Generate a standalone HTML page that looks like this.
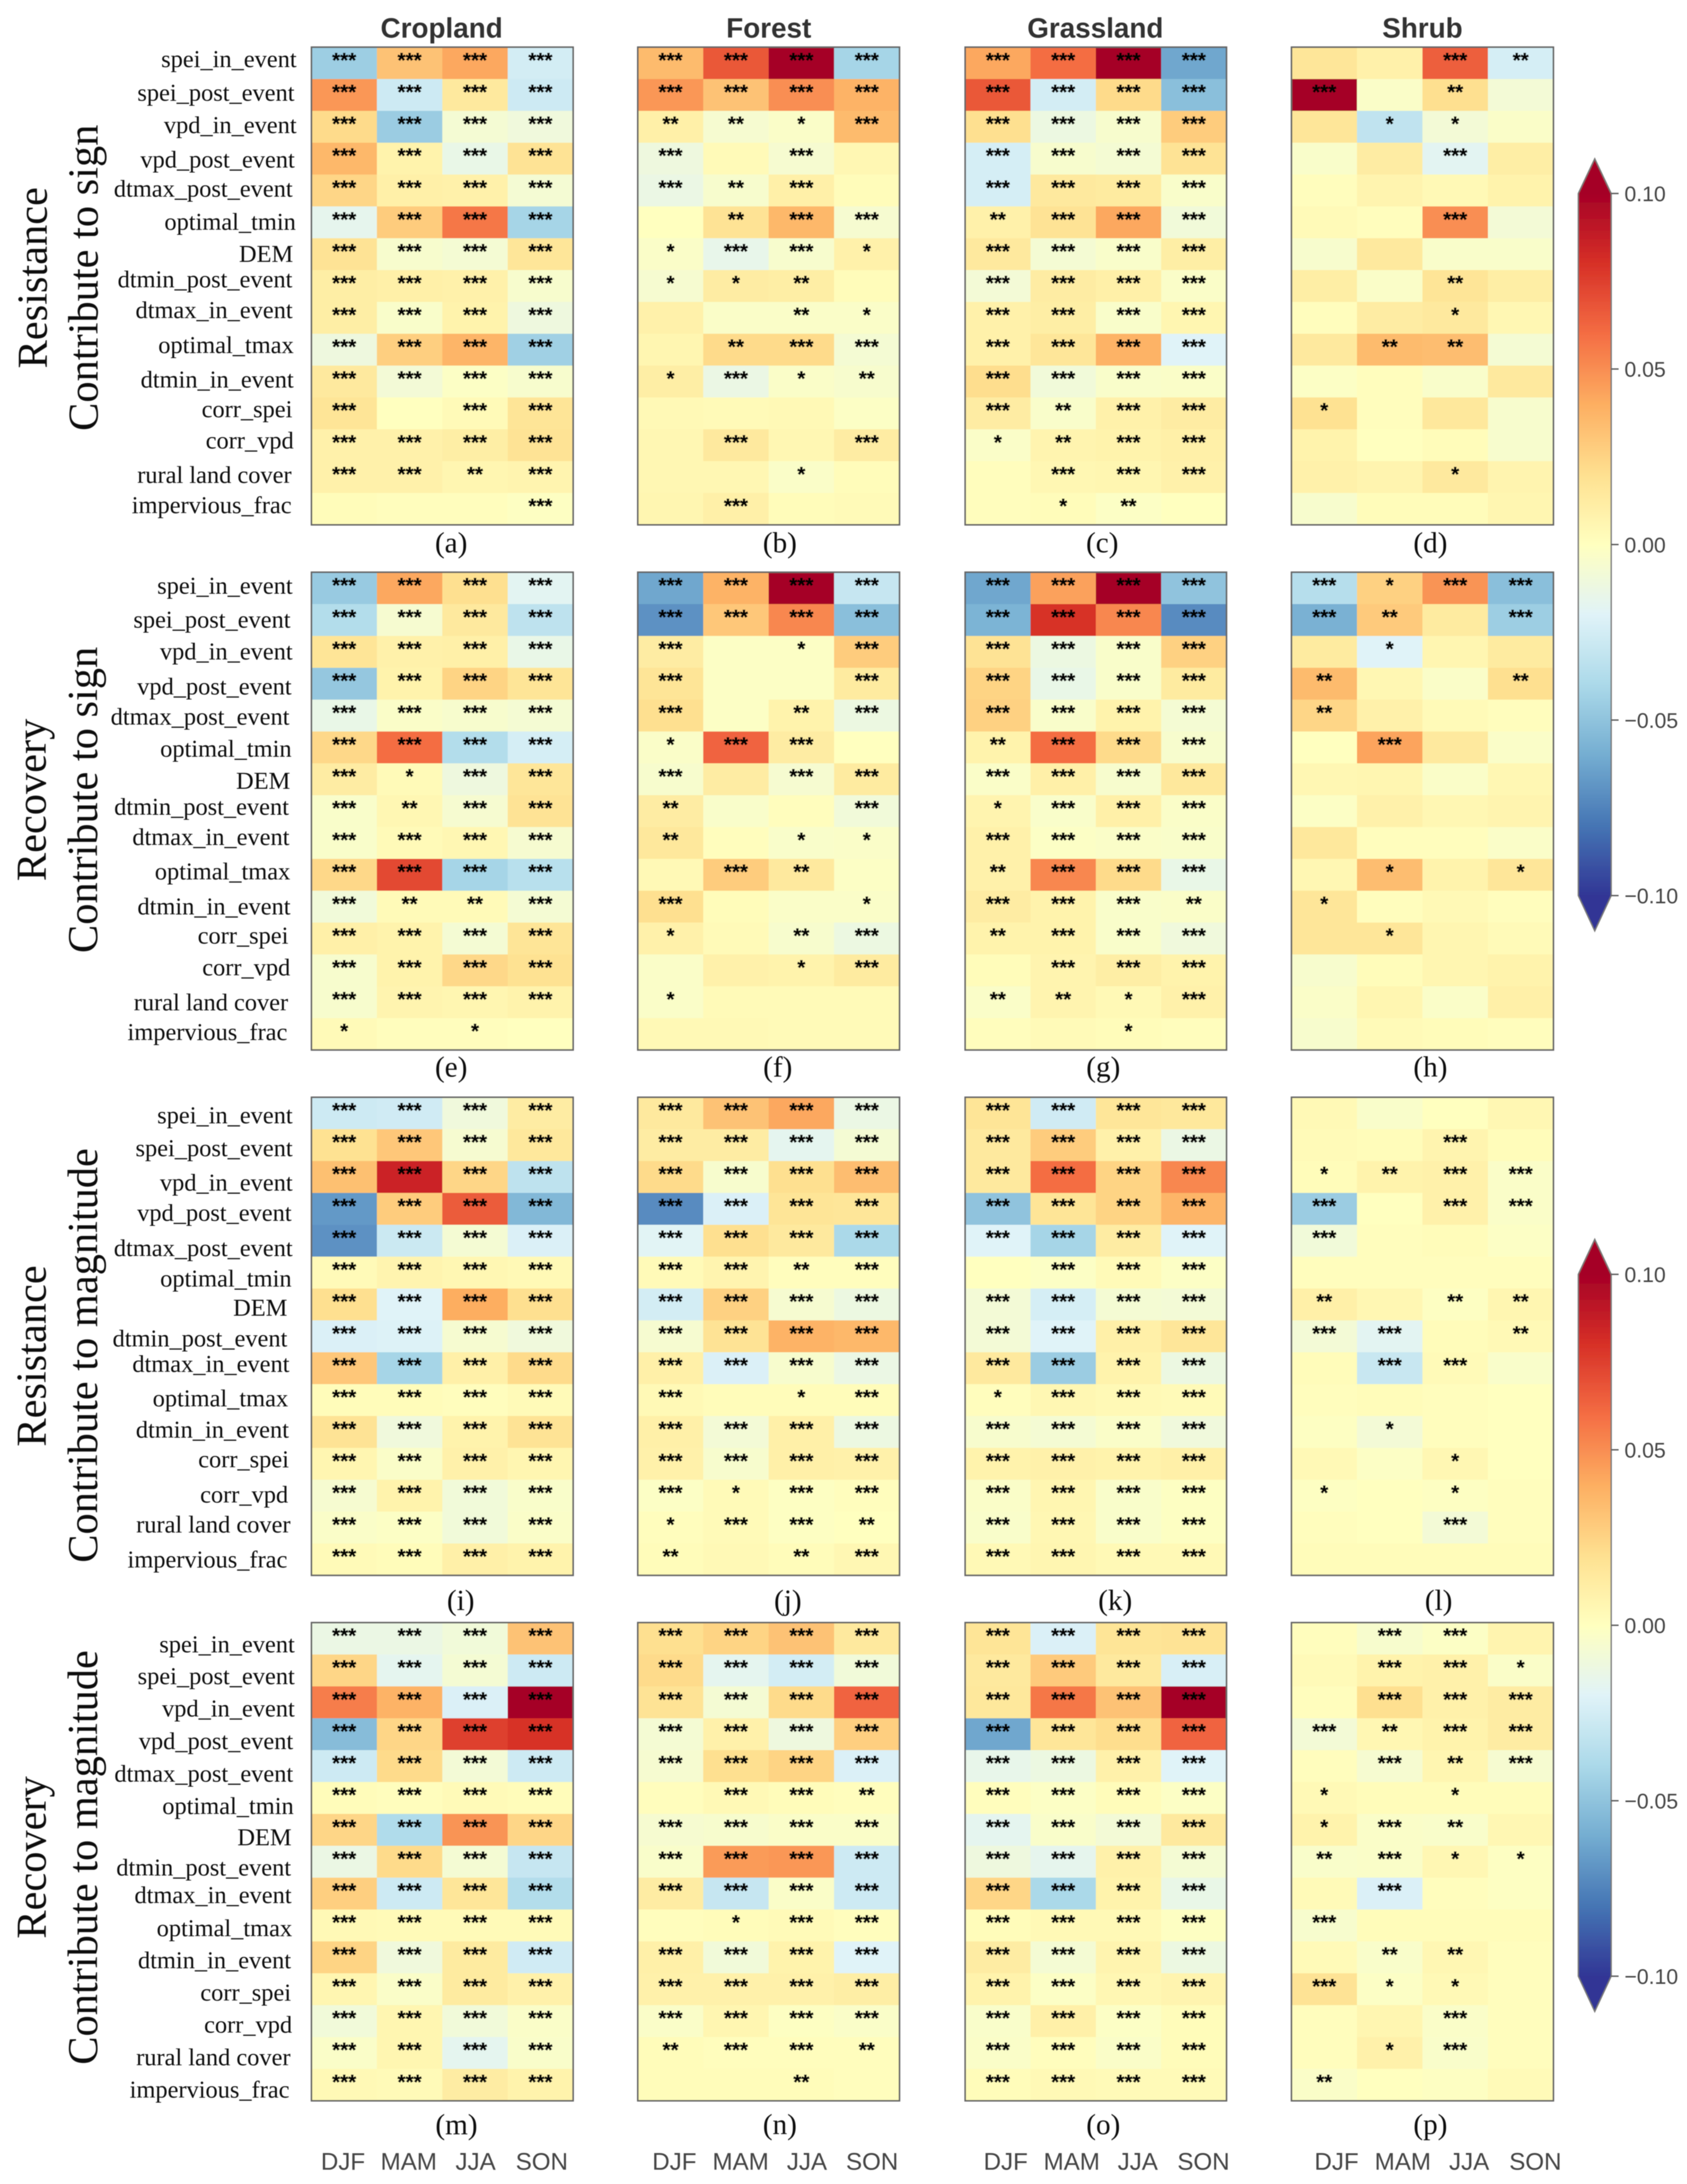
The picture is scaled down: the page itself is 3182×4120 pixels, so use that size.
<!DOCTYPE html>
<html lang="en">
<head>
<meta charset="utf-8">
<title>Contribution heatmaps by land cover</title>
<style>
html,body{margin:0;padding:0;background:#fff;width:3182px;height:4120px;overflow:hidden}
svg{display:block}
.serif{font-family:"Liberation Serif",serif;fill:#111}
.sans{font-family:"Liberation Sans",sans-serif}
</style>
</head>
<body>
<svg id="figure" xmlns="http://www.w3.org/2000/svg" width="3182" height="4120" viewBox="0 0 3182 4120">
<defs>
<filter id="soft" x="0" y="0" width="100%" height="100%"><feGaussianBlur stdDeviation="0.9"/></filter>
<linearGradient id="cbar-gradient" x1="0" y1="0" x2="0" y2="1"></linearGradient>
</defs>
<rect x="0" y="0" width="3182" height="4120" fill="#ffffff"/>
<g id="root" filter="url(#soft)">
<g class="sans" font-weight="bold" font-size="52.5" fill="#333" text-anchor="middle">
<text x="833" y="71">Cropland</text>
<text x="1450" y="71">Forest</text>
<text x="2066" y="71">Grassland</text>
<text x="2683" y="71">Shrub</text>
</g>
<g class="serif" font-size="80" text-anchor="middle">
<text transform="translate(88,524) rotate(-90)">Resistance</text>
<text transform="translate(184,524) rotate(-90)">Contribute to sign</text>
<text transform="translate(86,1509) rotate(-90)">Recovery</text>
<text transform="translate(183,1509) rotate(-90)">Contribute to sign</text>
<text transform="translate(86,2558) rotate(-90)">Resistance</text>
<text transform="translate(183,2557) rotate(-90)">Contribute to magnitude</text>
<text transform="translate(86,3504) rotate(-90)">Recovery</text>
<text transform="translate(183,3504) rotate(-90)">Contribute to magnitude</text>
</g>
<g id="panels"></g>
<g id="colorbars"></g>
</g>
</svg>
<script>
// Categories and tick labels
const variables = ['spei_in_event','spei_post_event','vpd_in_event','vpd_post_event','dtmax_post_event','optimal_tmin','DEM','dtmin_post_event','dtmax_in_event','optimal_tmax','dtmin_in_event','corr_spei','corr_vpd','rural land cover','impervious_frac'];
const seasons = ['DJF','MAM','JJA','SON'];
const colorbarTickValues = [100,50,0,-50,-100];
const colorbarTickLabels = ['0.10','0.05','0.00','\u22120.05','\u22120.10'];
const colorDomain = [-100,100]; // values are in units of 0.001

// Series values (0.001 units), rows = variables, columns = seasons
const valuesA = [[-45,32,42,-25],[47,-27,14,-27],[22,-46,-7,-10],[36,8,-14,18],[24,10,9,-7],[-16,28,57,-42],[18,-5,-7,16],[11,10,9,-5],[11,-4,8,-11],[-11,27,37,-44],[14,-8,-2,-5],[17,0,3,17],[9,9,11,18],[9,9,6,7],[2,1,1,-1]];
const valuesB = [[35,67,100,-42],[47,32,50,38],[10,-6,-3,35],[-11,3,-6,5],[-13,-5,10,2],[0,18,36,-6],[-3,-15,-5,9],[-6,12,11,2],[9,-3,-3,-3],[6,22,22,-7],[11,-13,-3,-5],[4,3,4,-2],[5,14,5,12],[5,5,-3,2],[6,10,2,3]];
const valuesC = [[42,60,100,-62],[67,-25,22,-52],[20,-12,-5,28],[-24,-5,-7,18],[-24,14,13,-4],[9,18,42,-9],[14,-7,-4,11],[-8,12,10,-3],[9,11,-4,6],[9,16,38,-20],[21,-9,-4,-3],[12,-4,9,12],[-3,7,8,10],[1,5,6,9],[1,2,-2,0]];
const valuesD = [[16,9,65,-24],[100,-3,20,-8],[16,-32,-8,-3],[-4,12,-18,11],[1,7,4,8],[3,1,50,-8],[-5,14,-4,-4],[11,-3,17,11],[1,12,14,5],[14,35,34,-7],[-2,1,-4,14],[19,1,15,-5],[8,0,2,-5],[9,7,14,7],[-5,2,2,6]];
const valuesE = [[-47,42,20,-18],[-37,-6,14,-33],[17,9,10,-14],[-48,8,25,17],[-14,-3,-5,-7],[23,60,-37,-24],[12,3,-11,16],[-4,5,-6,18],[-4,3,5,-6],[23,72,-42,-35],[-9,3,3,-7],[10,8,-7,17],[-5,8,23,19],[-5,7,6,8],[3,1,1,0]];
const valuesF = [[-62,38,100,-30],[-70,30,52,-52],[12,-2,-2,28],[17,-2,-2,13],[20,-2,8,-12],[-3,63,12,0],[-5,12,-6,13],[12,-4,1,-9],[15,1,-4,-3],[4,28,14,-2],[20,2,-3,-3],[9,3,-5,-12],[-3,9,8,13],[-3,3,3,3],[4,4,3,3]];
const valuesG = [[-62,44,100,-50],[-57,80,52,-72],[18,-12,-4,26],[25,-14,-4,13],[26,-4,8,-7],[8,60,22,-5],[-3,10,-5,15],[7,-4,10,-3],[9,-2,-3,-4],[9,52,22,-14],[12,8,-4,-3],[8,8,-4,-10],[2,7,11,8],[-3,7,4,9],[1,3,2,1]];
const valuesH = [[-36,26,48,-52],[-58,29,13,-45],[13,-20,6,13],[35,5,-3,20],[24,9,3,1],[0,43,14,-3],[5,6,-3,5],[-2,9,5,7],[15,1,1,-3],[5,34,8,16],[16,1,4,1],[16,16,6,3],[-5,2,6,8],[-3,6,-3,10],[-5,3,2,1]];
const valuesI = [[-27,-26,-10,12],[19,30,-6,15],[33,85,24,-33],[-67,28,66,-55],[-70,-28,-7,-22],[3,7,5,4],[20,-20,40,20],[-22,-21,-6,-10],[30,-42,10,22],[2,2,1,3],[18,-10,8,18],[6,-3,9,6],[-6,8,-9,-4],[-3,-2,-9,-3],[3,2,10,8]];
const valuesJ = [[14,32,42,-13],[12,12,-17,-7],[22,-5,20,34],[-72,-22,17,16],[-19,20,14,-40],[3,7,1,1],[-25,26,-6,-12],[-6,18,38,36],[10,-22,-5,-13],[4,2,2,2],[10,-8,10,-12],[9,-5,10,9],[-2,3,-1,1],[1,3,-1,0],[2,4,2,5]];
const valuesK = [[17,-26,16,15],[14,28,9,-13],[14,60,25,52],[-50,17,25,37],[-20,-42,12,-20],[0,-2,3,-2],[-8,-24,-7,-8],[-8,-20,10,16],[14,-46,8,-12],[1,5,4,3],[-5,-7,-3,-10],[8,9,8,10],[-3,6,-4,-1],[-4,5,-4,-1],[4,6,4,4]];
const valuesL = [[4,-4,0,5],[3,2,7,2],[2,8,9,-3],[-46,0,9,-3],[-9,1,2,-2],[1,1,1,1],[10,5,-1,6],[-8,-18,2,4],[2,-29,3,-4],[1,2,1,0],[-1,-8,1,0],[4,-2,5,0],[-1,0,-1,1],[1,0,-8,1],[2,2,2,2]];
const valuesM = [[-13,-13,-9,32],[24,-17,-7,-27],[55,38,-22,100],[-53,24,75,80],[-27,22,-8,-27],[2,1,3,2],[24,-38,48,24],[-13,22,-7,-30],[27,-27,16,-37],[4,3,3,3],[25,-10,13,-26],[6,-3,13,9],[-9,6,-9,-3],[-3,6,-17,-4],[4,3,12,8]];
const valuesN = [[20,25,32,14],[22,-17,-25,-9],[18,-7,22,63],[-7,9,-11,27],[-6,20,25,-22],[1,4,2,1],[-6,-5,-3,-3],[-4,46,47,-27],[12,-30,-3,-27],[1,2,3,1],[10,-9,8,-20],[9,9,9,11],[-3,6,-1,-3],[2,1,1,1],[2,2,2,1]];
const valuesO = [[17,-22,17,18],[14,29,14,-23],[15,57,32,100],[-62,16,21,63],[-15,-12,9,-20],[1,-2,2,-2],[-17,-4,-8,14],[-11,-16,9,-7],[24,-40,8,-14],[2,4,4,-1],[12,-7,7,-12],[8,-2,5,7],[-4,10,-2,2],[-3,1,-3,2],[2,4,3,3]];
const valuesP = [[1,-5,-2,7],[3,8,9,-3],[1,20,9,12],[-8,5,8,12],[1,-6,6,-6],[4,2,2,2],[8,-3,-4,5],[-4,-3,5,-1],[3,-22,1,-1],[-5,2,2,2],[3,-4,5,1],[18,-2,4,1],[1,6,-3,1],[1,9,-4,1],[-3,0,-1,3]];

// Significance levels: digit = number of asterisks per season
const sigA = ['3333','3333','3333','3333','3333','3333','3333','3333','3333','3333','3333','3033','3333','3323','0003'];
const sigB = ['3333','3333','2213','3030','3230','0233','1331','1120','0021','0233','1312','0000','0303','0010','0300'];
const sigC = ['3333','3333','3333','3333','3333','2333','3333','3333','3333','3333','3333','3233','1233','0333','0120'];
const sigD = ['0032','3020','0110','0030','0000','0030','0000','0020','0010','0220','0000','1000','0000','0010','0000'];
const sigE = ['3333','3333','3333','3333','3333','3333','3133','3233','3333','3333','3223','3333','3333','3333','1010'];
const sigF = ['3333','3333','3013','3003','3023','1330','3033','2003','2011','0320','3001','1023','0013','1000','0000'];
const sigG = ['3333','3333','3333','3333','3333','2333','3333','1333','3333','2333','3332','2333','0333','2213','0010'];
const sigH = ['3133','3203','0100','2002','2000','0300','0000','0000','0000','0101','1000','0100','0000','0000','0000'];
const sigI = ['3333','3333','3333','3333','3333','3333','3333','3333','3333','3333','3333','3333','3333','3333','3333'];
const sigJ = ['3333','3333','3333','3333','3333','3323','3333','3333','3333','3013','3333','3333','3133','1332','2023'];
const sigK = ['3333','3333','3333','3333','3333','0333','3333','3333','3333','1333','3333','3333','3333','3333','3333'];
const sigL = ['0000','0030','1233','3033','3000','0000','2022','3302','0330','0000','0100','0010','1010','0030','0000'];
const sigM = ['3333','3333','3333','3333','3333','3333','3333','3333','3333','3333','3333','3333','3333','3333','3333'];
const sigN = ['3333','3333','3333','3333','3333','0332','3333','3333','3333','0133','3333','3333','3333','2332','0020'];
const sigO = ['3333','3333','3333','3333','3333','3333','3333','3333','3333','3333','3333','3333','3333','3333','3333'];
const sigP = ['0330','0331','0333','3233','0323','1010','1320','2311','0300','3000','0220','3110','0030','0130','2000'];

// RdYlBu_r colormap anchors
const colormapStops = ['#313695','#4575b4','#74add1','#abd9e9','#e0f3f8','#ffffbf','#fee090','#fdae61','#f46d43','#d73027','#a50026'];

// Layout (separate from the data)
const columnLayout = [{left:587.5,right:1081},{left:1203,right:1696.6},{left:1820.5,right:2313.4},{left:2436,right:2930}];
const rowLayout = [
 {top:89,bottom:990,letterY:1027,letterX:[851,1471,2079,2698],
  labelY:[113.6,177,238,303,358,420.5,481,529,587,653,718,774,833,898,955],
  labelR:[559.5,555.5,559.5,556,552,558,553,551.5,552,554,554,551.5,554,550,550]},
 {top:1079.5,bottom:1980.7,letterY:2016,letterX:[851,1467,2081,2698],
  labelY:[1107,1171,1231,1297,1354,1414.5,1475,1524,1581,1646,1712,1767,1827,1893,1949],
  labelR:[552,548,552,550,546,550,547.5,545,546,547.5,548,544,547.5,543.5,542]},
 {top:2070,bottom:2971.8,letterY:3022,letterX:[869,1486,2103.5,2713.5],
  labelY:[2106,2168,2233,2290,2356.5,2414,2469,2527,2575,2640,2699,2755,2821.5,2878,2944],
  labelR:[552,552,552,550,552,550,542,542,546,543.5,545,545,543.5,548,542]},
 {top:3061,bottom:3963,letterY:4011,letterX:[861,1471,2081,2698],
  labelY:[3104,3164,3225,3286.5,3348,3409,3468,3525,3577,3639.5,3700,3761,3821.6,3883,3944],
  labelR:[556,556,556,553,553,554,550,549,550,551,549,549,551,548,546]}
];
const seasonTickX = [[647,771,897,1022],[1272,1397,1522,1645],[1897,2021.5,2146,2270],[2521,2646,2771,2896]];
const colorbarLayout = [{y100:365,yNeg100:1689.5,tipTop:299.5,tipBottom:1756},{y100:2404,yNeg100:3728,tipTop:2338,tipBottom:3794.5}];

const panels = [
 {letter:'a',values:valuesA,sig:sigA},{letter:'b',values:valuesB,sig:sigB},{letter:'c',values:valuesC,sig:sigC},{letter:'d',values:valuesD,sig:sigD},
 {letter:'e',values:valuesE,sig:sigE},{letter:'f',values:valuesF,sig:sigF},{letter:'g',values:valuesG,sig:sigG},{letter:'h',values:valuesH,sig:sigH},
 {letter:'i',values:valuesI,sig:sigI},{letter:'j',values:valuesJ,sig:sigJ},{letter:'k',values:valuesK,sig:sigK},{letter:'l',values:valuesL,sig:sigL},
 {letter:'m',values:valuesM,sig:sigM},{letter:'n',values:valuesN,sig:sigN},{letter:'o',values:valuesO,sig:sigO},{letter:'p',values:valuesP,sig:sigP}
];

const NS = 'http://www.w3.org/2000/svg';
function svgEl(tag, parent){
  const el = document.createElementNS(NS, tag);
  parent.appendChild(el);
  return el;
}
function hexToRgb(h){
  return [parseInt(h.slice(1,3),16),parseInt(h.slice(3,5),16),parseInt(h.slice(5,7),16)];
}
function colorScale(v){
  const t = Math.max(0,Math.min(1,(v-colorDomain[0])/(colorDomain[1]-colorDomain[0])));
  const pos = t*(colormapStops.length-1);
  const i = Math.min(colormapStops.length-2,Math.floor(pos));
  const f = pos-i;
  const a = hexToRgb(colormapStops[i]);
  const b = hexToRgb(colormapStops[i+1]);
  return 'rgb('+a.map((c,k)=>Math.round(c+(b[k]-c)*f)).join(',')+')';
}
function xScale(colLayout, j){
  return colLayout.left + j*(colLayout.right-colLayout.left)/seasons.length;
}
function yScale(rowL, i){
  return rowL.top + i*(rowL.bottom-rowL.top)/variables.length;
}

const panelsGroup = document.getElementById('panels');
panels.forEach((panel, index)=>{
  const rowIdx = Math.floor(index/4);
  const colIdx = index%4;
  const rowL = rowLayout[rowIdx];
  const colL = columnLayout[colIdx];
  const g = svgEl('g', panelsGroup);
  
  
  const cw = (colL.right-colL.left)/seasons.length;
  const ch = (rowL.bottom-rowL.top)/variables.length;
  panel.values.forEach((row,i)=>{
    row.forEach((v,j)=>{
      const cell = svgEl('rect', g);
      
      
      cell.setAttribute('x', xScale(colL,j));
      cell.setAttribute('y', yScale(rowL,i));
      cell.setAttribute('width', cw+0.5);
      cell.setAttribute('height', ch+0.5);
      cell.setAttribute('fill', colorScale(v));
      const n = Number(panel.sig[i][j]);
      if(n>0){
        const star = svgEl('text', g);
        
        
        star.setAttribute('x', xScale(colL,j)+cw/2);
        star.setAttribute('y', yScale(rowL,i)+38);
        star.setAttribute('text-anchor', 'middle');
        star.setAttribute('font-family', '"Liberation Sans",sans-serif');
        star.setAttribute('font-weight', 'bold');
        star.setAttribute('font-size', '39');
        star.setAttribute('fill', '#000');
        star.setAttribute('stroke', '#000');
        star.setAttribute('stroke-width', '0.7');
        star.textContent = '*'.repeat(n);
      }
    });
  });
  const frame = svgEl('rect', g);
  
  
  frame.setAttribute('x', colL.left);
  frame.setAttribute('y', rowL.top);
  frame.setAttribute('width', colL.right-colL.left);
  frame.setAttribute('height', rowL.bottom-rowL.top);
  frame.setAttribute('fill', 'none');
  frame.setAttribute('stroke', '#666');
  frame.setAttribute('stroke-width', '3');
  const letter = svgEl('text', g);
  
  
  letter.setAttribute('x', rowL.letterX[colIdx]);
  letter.setAttribute('y', rowL.letterY+15);
  letter.setAttribute('text-anchor', 'middle');
  letter.setAttribute('class', 'serif');
  letter.setAttribute('font-size', '55');
  letter.textContent = '('+panel.letter+')';
  if(colIdx===0){
    variables.forEach((name,i)=>{
      const lab = svgEl('text', panelsGroup);
      
      
      lab.setAttribute('x', rowL.labelR[i]);
      lab.setAttribute('y', rowL.labelY[i]+13);
      lab.setAttribute('text-anchor', 'end');
      lab.setAttribute('class', 'serif');
      lab.setAttribute('font-size', '46');
      lab.textContent = name;
    });
  }
  if(rowIdx===3){
    seasons.forEach((s,j)=>{
      const t = svgEl('text', panelsGroup);
      
      
      t.setAttribute('x', seasonTickX[colIdx][j]);
      t.setAttribute('y', 4093);
      t.setAttribute('text-anchor', 'middle');
      t.setAttribute('class', 'sans');
      t.setAttribute('font-size', '45.5');
      t.setAttribute('fill', '#444');
      t.textContent = s;
    });
  }
});

// Colorbar gradient
const grad = document.getElementById('cbar-gradient');
colormapStops.slice().reverse().forEach((c,i)=>{
  const st = svgEl('stop', grad);
  st.setAttribute('offset', (i/(colormapStops.length-1)));
  st.setAttribute('stop-color', c);
});
const cbGroup = document.getElementById('colorbars');
colorbarLayout.forEach((cb,k)=>{
  const left = 2977, right = 3039, mid = (left+right)/2;
  const g = svgEl('g', cbGroup);
  
  
  const up = svgEl('polygon', g);
  
  
  up.setAttribute('points', left+','+cb.y100+' '+mid+','+cb.tipTop+' '+right+','+cb.y100);
  up.setAttribute('fill', colormapStops[colormapStops.length-1]);
  const down = svgEl('polygon', g);
  
  
  down.setAttribute('points', left+','+cb.yNeg100+' '+mid+','+cb.tipBottom+' '+right+','+cb.yNeg100);
  down.setAttribute('fill', colormapStops[0]);
  const body = svgEl('rect', g);
  
  
  body.setAttribute('x', left);
  body.setAttribute('y', cb.y100);
  body.setAttribute('width', right-left);
  body.setAttribute('height', cb.yNeg100-cb.y100);
  body.setAttribute('fill', 'url(#cbar-gradient)');
  const outline = svgEl('polygon', g);
  
  
  outline.setAttribute('points', left+','+cb.y100+' '+mid+','+cb.tipTop+' '+right+','+cb.y100+' '+right+','+cb.yNeg100+' '+mid+','+cb.tipBottom+' '+left+','+cb.yNeg100);
  outline.setAttribute('fill', 'none');
  outline.setAttribute('stroke', '#777');
  outline.setAttribute('stroke-width', '2.5');
  colorbarTickValues.forEach((v,i)=>{
    const y = cb.y100 + (colorDomain[1]-v)/(colorDomain[1]-colorDomain[0])*(cb.yNeg100-cb.y100);
    const tick = svgEl('line', g);
    
    
    tick.setAttribute('x1', right);
    tick.setAttribute('x2', right+14);
    tick.setAttribute('y1', y);
    tick.setAttribute('y2', y);
    tick.setAttribute('stroke', '#555');
    tick.setAttribute('stroke-width', '2.5');
    const t = svgEl('text', g);
    
    
    t.setAttribute('x', 3064);
    t.setAttribute('y', y+14.5);
    t.setAttribute('class', 'sans');
    t.setAttribute('font-size', '40');
    t.setAttribute('fill', '#444');
    t.textContent = colorbarTickLabels[i];
  });
});
</script>
</body>
</html>
